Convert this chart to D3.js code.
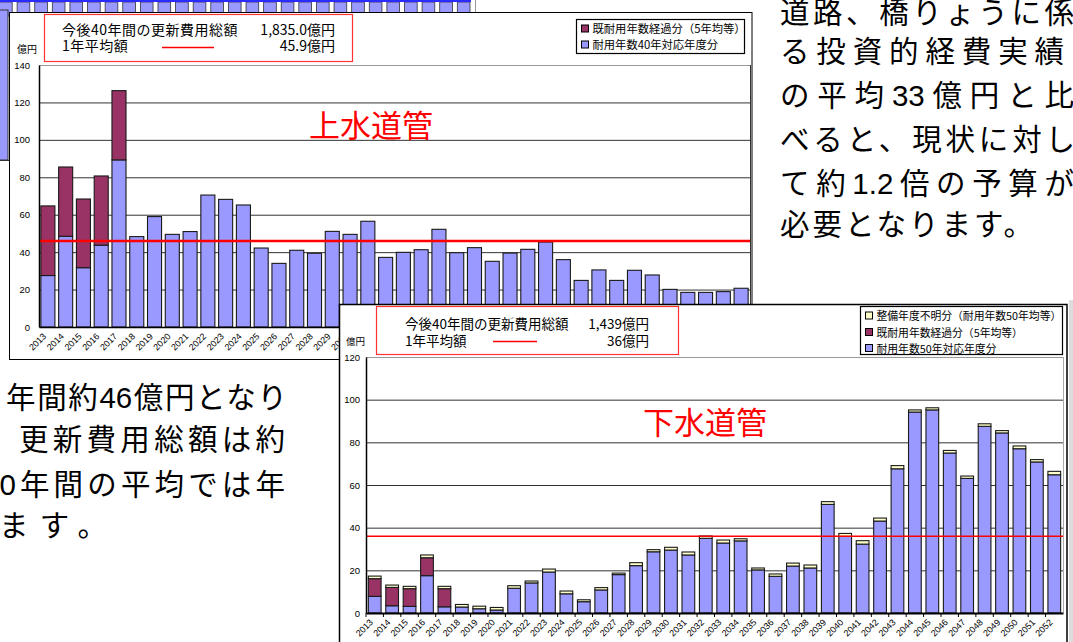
<!DOCTYPE html>
<html lang="ja">
<head>
<meta charset="utf-8">
<script src="https://cdn.jsdelivr.net/npm/d3@7"></script>
<style>
  body { margin: 0; background: #fff; }
  svg { display: block; }
</style>
</head>
<body>
<div id="chart"></div>
<script>
const ancho = 1073;
const alto = 642;

// ------------------------ datos ------------------------
const years = [
  "2013", "2014", "2015", "2016", "2017", "2018", "2019", "2020", "2021", "2022",
  "2023", "2024", "2025", "2026", "2027", "2028", "2029", "2030", "2031", "2032",
  "2033", "2034", "2035", "2036", "2037", "2038", "2039", "2040", "2041", "2042",
  "2043", "2044", "2045", "2046", "2047", "2048", "2049", "2050", "2051", "2052",
];

// 上水道管 (億円)
const jouTaiyou = [
  27.5, 48.5, 31.7, 43.7, 89.3, 48.3, 59.0, 49.5, 51.0, 70.5,
  68.2, 65.2, 42.2, 34.0, 41.0, 39.4, 51.1, 49.5, 56.5, 37.2,
  39.9, 41.3, 52.2, 39.7, 42.4, 35.1, 39.5, 41.5, 45.4, 36.0,
  24.9, 30.5, 24.9, 30.3, 27.8, 20.1, 18.5, 18.5, 18.9, 20.7,
];
const jouKeika = [
  37.2, 37.0, 36.7, 37.0, 37.0, 0, 0, 0, 0, 0,
  0, 0, 0, 0, 0, 0, 0, 0, 0, 0,
  0, 0, 0, 0, 0, 0, 0, 0, 0, 0,
  0, 0, 0, 0, 0, 0, 0, 0, 0, 0,
];
const jouPromedio = 45.9;
const jouTicks = [0, 20, 40, 60, 80, 100, 120, 140];

// 下水道管 (億円)
const geTaiyou = [
  7.8, 3.4, 3.1, 17.5, 2.9, 2.8, 2.0, 1.4, 11.6, 14.1,
  19.2, 9.0, 5.3, 10.8, 18.0, 22.2, 28.7, 29.5, 27.2, 35.0,
  32.8, 33.8, 20.2, 17.2, 22.0, 21.1, 50.9, 35.9, 32.3, 43.1,
  67.6, 94.2, 95.2, 75.0, 63.1, 87.5, 84.4, 77.0, 70.8, 64.8,
];
const geKeika = [
  8.3, 8.6, 8.3, 8.4, 8.5, 0, 0, 0, 0, 0,
  0, 0, 0, 0, 0, 0, 0, 0, 0, 0,
  0, 0, 0, 0, 0, 0, 0, 0, 0, 0,
  0, 0, 0, 0, 0, 0, 0, 0, 0, 0,
];
const geFumei = [
  1.2, 1.1, 1.1, 1.3, 1.1, 1.2, 1.2, 1.2, 1.2, 0.9,
  1.4, 1.3, 0.9, 1.1, 0.7, 1.4, 1.0, 1.3, 1.4, 1.1,
  1.4, 1.0, 0.9, 1.1, 1.4, 1.4, 1.3, 1.4, 1.6, 1.4,
  1.5, 1.0, 1.0, 1.2, 1.1, 1.2, 1.1, 1.3, 1.1, 1.6,
];
const gePromedio = 36;
const geTicks = [0, 20, 40, 60, 80, 100, 120];

const resumenJou = ["今後40年間の更新費用総額", "1,835.0億円", "1年平均額", "45.9億円"];
const resumenGe = ["今後40年間の更新費用総額", "1,439億円", "1年平均額", "36億円"];

const textoDerecha = [
  "道路、橋りょうに係", "る投資的経費実績", "の平均33億円と比",
  "べると、現状に対し", "て約1.2倍の予算が", "必要となります。",
];
const textoIzquierda = ["年間約46億円となり", "更新費用総額は約", "40年間の平均では年", "ます。"];

const azul = "#9999ff";
const granate = "#993366";
const crema = "#ffffcc";

const fuenteJp = "'Noto Sans CJK JP', sans-serif";
const fuenteNum = "'Liberation Sans', Arial, sans-serif";
const fuenteTexto = "'Liberation Sans', 'Noto Sans CJK JP', sans-serif";

// ------------------------ svg ------------------------
const svg = d3
  .select("#chart")
  .append("svg")
  .attr("width", ancho)
  .attr("height", alto)
  .style("font-family", fuenteJp);

// grafico de fondo (solo se ven los bordes)
const fondo = svg.append("g").attr("id", "fondo");
const fondoCols = years.slice(0, 27);
const xFondo = d3.scaleBand().domain(fondoCols).range([-0.5, 470]).paddingInner(0.28).paddingOuter(0);
fondo
  .selectAll("rect")
  .data(fondoCols)
  .join("rect")
  .attr("x", (d) => xFondo(d))
  .attr("y", 2)
  .attr("width", xFondo.bandwidth())
  .attr("height", 14)
  .attr("fill", azul)
  .attr("stroke", "#333")
  .attr("stroke-width", 0.8);
fondo.append("rect").attr("x", 0).attr("y", 0).attr("width", 471).attr("height", 2).attr("fill", "#2b2bff");
fondo.append("line").attr("x1", 475.5).attr("x2", 475.5).attr("y1", 0).attr("y2", 14).attr("stroke", "#999");
fondo.append("rect").attr("x", -1).attr("y", 10).attr("width", 9).attr("height", 150).attr("fill", azul).attr("stroke", "#333");
fondo.append("line").attr("x1", 0).attr("x2", 9).attr("y1", 160.5).attr("y2", 160.5).attr("stroke", "#333");

// ------------------------ funcion de grafico ------------------------
function grafico(cfg) {
  const L = cfg.caja;
  const g = svg.append("g").attr("id", cfg.id);

  g.append("rect")
    .attr("x", L.x0)
    .attr("y", L.y0)
    .attr("width", L.x1 - L.x0)
    .attr("height", L.y1 - L.y0)
    .attr("fill", "#fff")
    .attr("stroke", "#000")
    .attr("stroke-width", cfg.marco);

  const x = d3.scaleBand().domain(years).range([L.izq, L.der]).paddingInner(cfg.pad).paddingOuter(cfg.pad / 2);
  const y = d3.scaleLinear().domain([0, d3.max(cfg.ticks)]).range([L.abajo, L.arriba]);

  // lineas de division
  g.selectAll("line.grid")
    .data(cfg.ticks.slice(1))
    .join("line")
    .attr("class", "grid")
    .attr("x1", L.izq)
    .attr("x2", L.der)
    .attr("y1", (d) => y(d) + 0.5)
    .attr("y2", (d) => y(d) + 0.5)
    .attr("stroke", (d) => (d === d3.max(cfg.ticks) ? "#999" : "#333"))
    .attr("stroke-width", 1);
  g.append("line")
    .attr("x1", L.der + 0.5)
    .attr("x2", L.der + 0.5)
    .attr("y1", L.arriba)
    .attr("y2", L.abajo)
    .attr("stroke", cfg.bordeDer);

  // barras apiladas
  const filas = years.map((yr, i) => {
    const o = { year: yr };
    cfg.series.forEach((s) => (o[s.key] = s.values[i]));
    return o;
  });
  const pila = d3.stack().keys(cfg.series.map((s) => s.key))(filas);
  g.selectAll("g.serie")
    .data(pila)
    .join("g")
    .attr("class", "serie")
    .attr("fill", (d, i) => cfg.series[i].color)
    .selectAll("rect")
    .data((d) => d.filter((p) => p[1] - p[0] > 0))
    .join("rect")
    .attr("x", (d) => x(d.data.year))
    .attr("y", (d) => y(d[1]))
    .attr("width", x.bandwidth())
    .attr("height", (d) => y(d[0]) - y(d[1]))
    .attr("stroke", "#1a1a1a")
    .attr("stroke-width", 1.1);

  // promedio
  g.append("line")
    .attr("x1", L.izq)
    .attr("x2", L.der)
    .attr("y1", y(cfg.promedio))
    .attr("y2", y(cfg.promedio))
    .attr("stroke", "#ff0000")
    .attr("stroke-width", cfg.grosorProm);

  // ejes
  const ejeY = g
    .append("g")
    .attr("transform", `translate(${L.izq},0)`)
    .call(d3.axisLeft(y).tickValues(cfg.ticks).tickSize(0).tickPadding(cfg.padY).tickSizeOuter(0));
  ejeY.select(".domain").attr("stroke", "#000").attr("stroke-width", 1.5);
  ejeY.selectAll("text").attr("font-family", fuenteNum).attr("font-size", 9.5).attr("fill", "#000");

  const ejeX = g
    .append("g")
    .attr("transform", `translate(0,${L.abajo})`)
    .call(d3.axisBottom(x).tickSize(0).tickSizeOuter(0));
  ejeX.select(".domain").attr("stroke", "#000").attr("stroke-width", cfg.grosorX);
  ejeX
    .selectAll("text")
    .attr("font-family", fuenteNum)
    .attr("font-size", 9)
    .attr("fill", "#000")
    .attr("x", 0)
    .attr("y", 0)
    .attr("dy", "0.3em")
    .attr("text-anchor", "end")
    .attr("transform", `translate(${cfg.etiq[0]},${cfg.etiq[1]}) rotate(-45)`);
  if (cfg.marcasX) {
    ejeX
      .selectAll("line.marca")
      .data(years)
      .join("line")
      .attr("class", "marca")
      .attr("x1", (d) => x(d) - (x.step() * cfg.pad) / 2)
      .attr("x2", (d) => x(d) - (x.step() * cfg.pad) / 2)
      .attr("y1", 0)
      .attr("y2", 4)
      .attr("stroke", "#000");
  }

  // unidad
  g.append("text")
    .attr("x", cfg.unidad.x)
    .attr("y", cfg.unidad.y)
    .attr("font-size", cfg.unidad.size)
    .text("億円");

  // leyenda
  const ly = cfg.leyenda;
  g.append("rect")
    .attr("x", ly.x)
    .attr("y", ly.y)
    .attr("width", ly.w)
    .attr("height", ly.h)
    .attr("fill", "#fff")
    .attr("stroke", "#000")
    .attr("stroke-width", 1.2);
  const items = g
    .selectAll("g.item")
    .data(ly.items)
    .join("g")
    .attr("class", "item")
    .attr("transform", (d, i) => `translate(${ly.x + 5},${ly.filas[i]})`);
  items
    .append("rect")
    .attr("x", 0)
    .attr("y", -3.5)
    .attr("width", 7)
    .attr("height", 7)
    .attr("fill", (d) => d.color)
    .attr("stroke", "#000");
  items
    .append("text")
    .attr("x", 11)
    .attr("y", 4.5)
    .attr("font-size", ly.size)
    .text((d) => d.texto);

  // resumen
  const rs = cfg.resumen;
  g.append("rect")
    .attr("x", rs.x)
    .attr("y", rs.y)
    .attr("width", rs.w)
    .attr("height", rs.h)
    .attr("fill", "#fff")
    .attr("stroke", "#ff3333")
    .attr("stroke-width", 1.2);
  const tr = cfg.textos;
  g.append("text").attr("x", rs.tx).attr("y", rs.b1).attr("font-size", rs.size).attr("letter-spacing", rs.ls).text(tr[0]);
  g.append("text").attr("x", rs.fin).attr("y", rs.b1).attr("font-size", rs.size).attr("text-anchor", "end").text(tr[1]);
  g.append("text").attr("x", rs.tx).attr("y", rs.b2).attr("font-size", rs.size).attr("letter-spacing", rs.ls).text(tr[2]);
  g.append("text").attr("x", rs.fin).attr("y", rs.b2).attr("font-size", rs.size).attr("text-anchor", "end").text(tr[3]);
  g.append("line")
    .attr("x1", rs.l1)
    .attr("x2", rs.l2)
    .attr("y1", rs.ly)
    .attr("y2", rs.ly)
    .attr("stroke", "#ff0000")
    .attr("stroke-width", 1.5);

  // titulo
  g.append("text")
    .attr("x", cfg.titulo.x)
    .attr("y", cfg.titulo.y)
    .attr("font-size", 31)
    .attr("fill", "#ff0000")
    .text(cfg.titulo.texto);

  return g;
}

// ------------------------ 上水道管 ------------------------
grafico({
  id: "jousuidou",
  caja: { x0: 9.5, y0: 12.5, x1: 752, y1: 359.5, izq: 39, der: 750, arriba: 65, abajo: 327 },
  marco: 1,
  pad: 0.21,
  ticks: jouTicks,
  padY: 9,
  bordeDer: "#333",
  grosorX: 1.5,
  grosorProm: 2.5,
  etiq: [-3, 8],
  marcasX: false,
  series: [
    { key: "taiyou", values: jouTaiyou, color: azul },
    { key: "keika", values: jouKeika, color: granate },
  ],
  promedio: jouPromedio,
  unidad: { x: 17, y: 53, size: 10 },
  leyenda: {
    x: 576.5, y: 19.5, w: 168, h: 34, filas: [28.5, 44.5], size: 11.3,
    items: [
      { texto: "既耐用年数経過分（5年均等）", color: granate },
      { texto: "耐用年数40年対応年度分", color: azul },
    ],
  },
  resumen: { x: 44.5, y: 14.5, w: 308, h: 47, tx: 62, b1: 35, b2: 51, fin: 335, size: 14, ls: 0.5, l1: 162, l2: 214, ly: 47.5 },
  textos: resumenJou,
  titulo: { texto: "上水道管", x: 309, y: 137 },
});

// ------------------------ 下水道管 ------------------------
grafico({
  id: "gesuidou",
  caja: { x0: 339.5, y0: 304.5, x1: 1067, y1: 660, izq: 366, der: 1063, arriba: 357, abajo: 613 },
  marco: 1.5,
  pad: 0.27,
  ticks: geTicks,
  padY: 6,
  bordeDer: "#aaa",
  grosorX: 2,
  grosorProm: 1.6,
  etiq: [-3, 8],
  marcasX: true,
  series: [
    { key: "taiyou", values: geTaiyou, color: azul },
    { key: "keika", values: geKeika, color: granate },
    { key: "fumei", values: geFumei, color: crema },
  ],
  promedio: gePromedio,
  unidad: { x: 346, y: 345, size: 9.5 },
  leyenda: {
    x: 860.5, y: 306.5, w: 202, h: 48, filas: [315.5, 332, 348], size: 10.8,
    items: [
      { texto: "整備年度不明分（耐用年数50年均等）", color: crema },
      { texto: "既耐用年数経過分（5年均等）", color: granate },
      { texto: "耐用年数50年対応年度分", color: azul },
    ],
  },
  resumen: { x: 376.5, y: 306.5, w: 302, h: 48, tx: 405, b1: 329, b2: 346, fin: 649, size: 13.5, ls: 0, l1: 493, l2: 537, ly: 341.5 },
  textos: resumenGe,
  titulo: { texto: "下水道管", x: 643, y: 434 },
});
svg.append("rect").attr("x", 1069).attr("y", 300).attr("width", 4).attr("height", 342).attr("fill", "#ddd");

// ------------------------ textos ------------------------
// x = inicio de la linea, largo = ancho total justificado
const posDerecha = [
  { x: 780, y: 23, largo: 294 },
  { x: 780, y: 62, largo: 284 },
  { x: 780, y: 106, largo: 294 },
  { x: 780, y: 150, largo: 295 },
  { x: 780, y: 194, largo: 294 },
  { x: 780, y: 235, largo: 253 },
];
const posIzquierda = [
  { x: 6, y: 408, largo: 281 },
  { x: 19, y: 450, largo: 266 },
  { x: -17, y: 495, largo: 302 },
  { x: -1, y: 536, largo: 108 },
];

// justificado: el espacio extra va entre caracteres, los numeros quedan juntos
function parrafo(lineas, pos) {
  const grupo = svg.append("g").attr("font-family", fuenteTexto);
  lineas.forEach((linea, i) => {
    const trozos = linea.match(/[0-9.]+|./g);
    const t = grupo
      .append("text")
      .attr("y", pos[i].y)
      .attr("font-size", 29.5)
      .attr("fill", "#000");
    const spans = trozos.map((tr) => t.append("tspan").text(tr));
    const anchos = spans.map((s) => s.node().getComputedTextLength());
    const hueco = (pos[i].largo - d3.sum(anchos)) / (trozos.length - 1);
    let xx = pos[i].x;
    spans.forEach((s, k) => {
      s.attr("x", xx);
      xx += anchos[k] + hueco;
    });
  });
}
parrafo(textoDerecha, posDerecha);
parrafo(textoIzquierda, posIzquierda);
</script>
</body>
</html>
